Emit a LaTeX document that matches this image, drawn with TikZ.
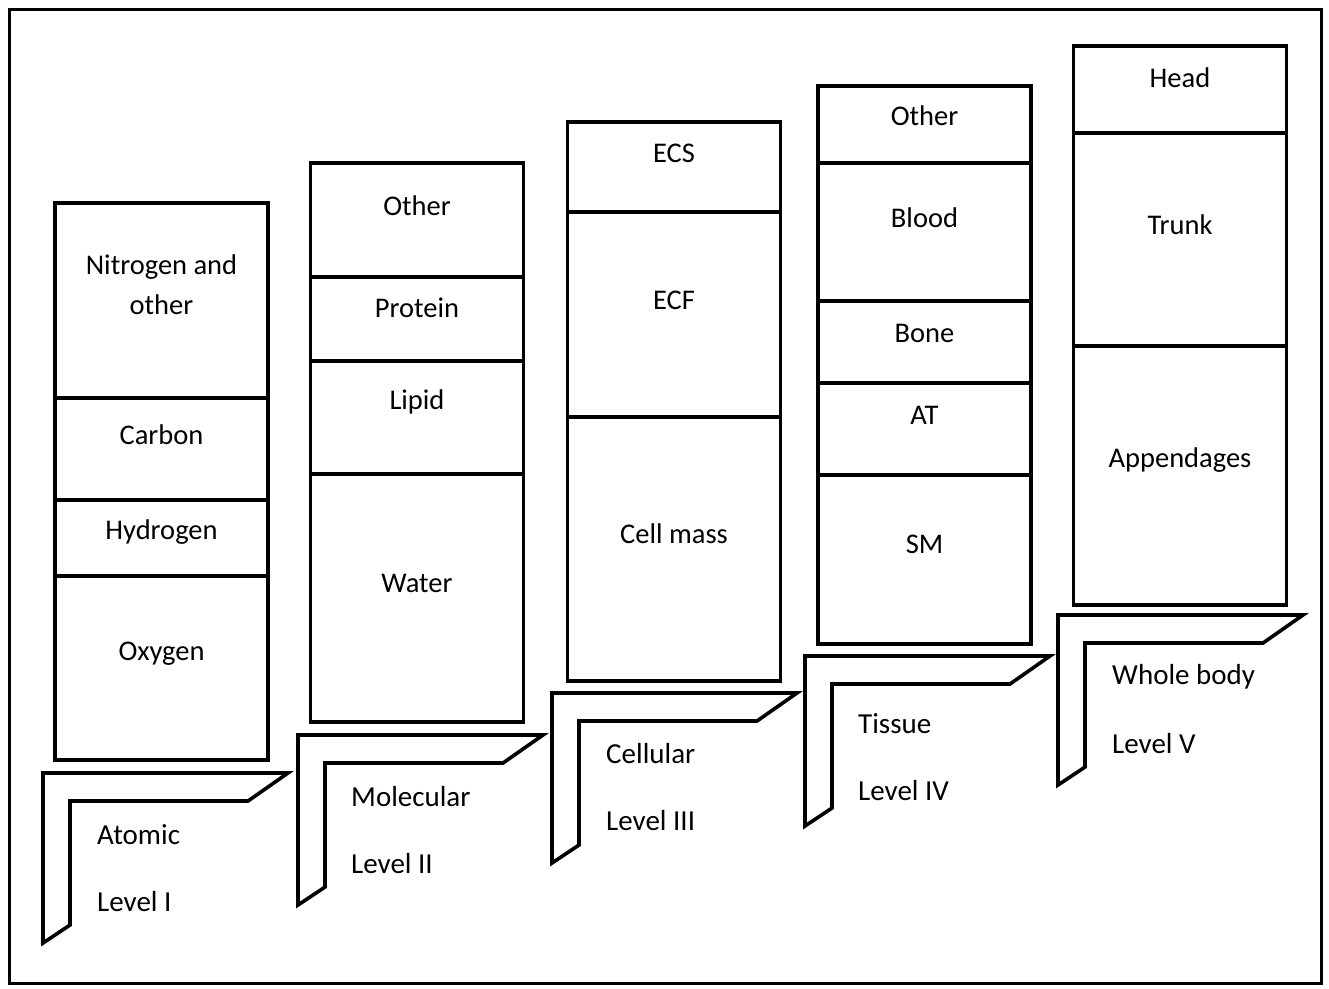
\documentclass[tikz,border=0pt]{standalone}
\usepackage{fontspec}
\setmainfont{Carlito}
\usetikzlibrary{positioning}
\tikzset{
  seg/.style={
    draw=black,
    line width=3.6pt,
    minimum width=213pt,
    inner sep=0pt,
    outer sep=0pt
  },
  lab/.style={font=\fontsize{28.5}{40}\selectfont, align=center, inner sep=0pt},
  stepbox/.style={draw=black, line width=3.6pt, line join=miter, fill=white},
  steptext/.style={font=\fontsize{29}{30}\selectfont, anchor=west, inner sep=0pt}
}

\begin{document}
\begin{tikzpicture}[x=1pt, y=-1pt]

% --- Frame ---
\useasboundingbox (0,0) rectangle (1329,988);
\node[draw, line width=3pt, minimum width=1312pt, minimum height=974pt,
      inner sep=0pt, anchor=north west] (frame) at (8,8) {};

% --- Level I: atomic ---
\node[seg, minimum height=195pt, anchor=north] (nitro) at (161.5,203) {};
\node[seg, minimum height=102pt, below=0pt of nitro] (carbon) {};
\node[seg, minimum height=76pt, below=0pt of carbon] (hydro) {};
\node[seg, minimum height=184pt, below=0pt of hydro] (oxy) {};
\node[lab] (tNitro) at (161.5,285) {Nitrogen and\\other};
\node[lab] (tCarbon) at (161.5,435) {Carbon};
\node[lab] (tHydro) at (161.5,532) {Hydrogen};
\node[lab] (tOxy) at (161.5,654) {Oxygen};

\draw[stepbox] (43,773) -- ++(245,0) -- ++(-40,28) -- ++(-178,0)
  -- ++(0,124) -- ++(-27,18) -- cycle;
\node[steptext] (atomic) at (97,835) {Atomic};
\node[steptext] (lvlI) at (97,902) {Level I};

% --- Level II: molecular ---
\node[seg, minimum height=114pt, anchor=north] (other2) at (417,163) {};
\node[seg, minimum height=84pt, below=0pt of other2] (protein) {};
\node[seg, minimum height=113pt, below=0pt of protein] (lipid) {};
\node[seg, minimum height=248pt, below=0pt of lipid] (water) {};
\node[lab] (tOther2) at (417,206) {Other};
\node[lab] (tProtein) at (417,308) {Protein};
\node[lab] (tLipid) at (417,402) {Lipid};
\node[lab] (tWater) at (417,583) {Water};

\draw[stepbox] (298,735) -- ++(245,0) -- ++(-40,28) -- ++(-178,0)
  -- ++(0,124) -- ++(-27,18) -- cycle;
\node[steptext] (molec) at (351,797) {Molecular};
\node[steptext] (lvlII) at (351,864) {Level II};

% --- Level III: cellular ---
\node[seg, minimum height=90pt, anchor=north] (ecs) at (674,122) {};
\node[seg, minimum height=205pt, below=0pt of ecs] (ecf) {};
\node[seg, minimum height=264pt, below=0pt of ecf] (cell) {};
\node[lab] (tEcs) at (674,153) {ECS};
\node[lab] (tEcf) at (674,300) {ECF};
\node[lab] (tCell) at (674,534) {Cell mass};

\draw[stepbox] (552,693) -- ++(245,0) -- ++(-40,28) -- ++(-178,0)
  -- ++(0,124) -- ++(-27,18) -- cycle;
\node[steptext] (cellular) at (606,754) {Cellular};
\node[steptext] (lvlIII) at (606,821) {Level III};

% --- Level IV: tissue ---
\node[seg, minimum height=77pt, anchor=north] (other4) at (924.5,86) {};
\node[seg, minimum height=138pt, below=0pt of other4] (blood) {};
\node[seg, minimum height=82pt, below=0pt of blood] (bone) {};
\node[seg, minimum height=92pt, below=0pt of bone] (at) {};
\node[seg, minimum height=169pt, below=0pt of at] (sm) {};
\node[lab] (tOther4) at (924.5,116) {Other};
\node[lab] (tBlood) at (924.5,218) {Blood};
\node[lab] (tBone) at (924.5,333) {Bone};
\node[lab] (tAt) at (924.5,415) {AT};
\node[lab] (tSm) at (924.5,544) {SM};

\draw[stepbox] (805,656) -- ++(245,0) -- ++(-40,28) -- ++(-178,0)
  -- ++(0,124) -- ++(-27,18) -- cycle;
\node[steptext] (tissue) at (858,724) {Tissue};
\node[steptext] (lvlIV) at (858,791) {Level IV};

% --- Level V: whole body ---
\node[seg, minimum height=87pt, anchor=north] (head) at (1180,46) {};
\node[seg, minimum height=213pt, below=0pt of head] (trunk) {};
\node[seg, minimum height=259pt, below=0pt of trunk] (append) {};
\node[lab] (tHead) at (1180,78) {Head};
\node[lab] (tTrunk) at (1180,225) {Trunk};
\node[lab] (tAppend) at (1180,460) {Appendages};

\draw[stepbox] (1058,615) -- ++(245,0) -- ++(-40,28) -- ++(-178,0)
  -- ++(0,124) -- ++(-27,18) -- cycle;
\node[steptext] (whole) at (1112,677) {Whole body};
\node[steptext] (lvlV) at (1112,744) {Level V};

\end{tikzpicture}
\end{document}
